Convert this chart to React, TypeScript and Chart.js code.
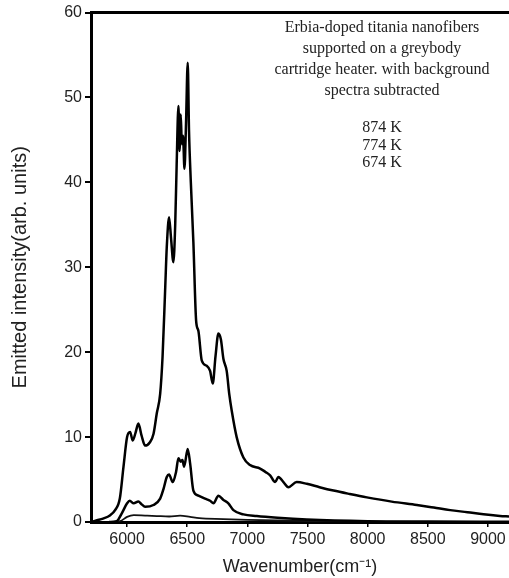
import React, { useEffect, useRef } from "react";
import { Chart, registerables } from "chart.js";

Chart.register(...registerables);

// ---- data ----
const X_TICKS = [6000, 6500, 7000, 7500, 8000, 8500, 9000];
const Y_TICKS = [0, 10, 20, 30, 40, 50, 60];

const SERIES_LABELS = ["874 K", "774 K", "674 K"];

const WN_874 = [5700, 5750, 5800, 5860, 5900, 5940, 5970, 6000, 6025, 6047, 6070, 6094, 6120, 6150, 6190, 6220, 6247, 6275, 6295, 6316, 6330, 6349, 6365, 6385, 6400, 6412, 6427, 6436, 6446, 6455, 6465, 6477, 6490, 6504, 6515, 6530, 6551, 6574, 6593, 6621, 6662, 6690, 6712, 6735, 6759, 6780, 6801, 6828, 6850, 6870, 6911, 6967, 7022, 7106, 7150, 7189, 7231, 7258, 7300, 7341, 7410, 7494, 7600, 7716, 7850, 7993, 8200, 8409, 8550, 8686, 8830, 8963, 9100, 9175];
const I_874 = [0.0, 0.2, 0.4, 0.8, 1.4, 2.8, 6.5, 10.0, 10.6, 9.6, 10.5, 11.6, 10.2, 9.0, 9.4, 10.4, 12.8, 15.1, 19.5, 27.2, 32.4, 35.9, 33.5, 30.6, 35.0, 42.0, 49.0, 43.7, 48.0, 44.5, 45.5, 41.6, 47.0, 54.1, 46.0, 40.0, 33.0, 23.7, 22.5, 19.0, 18.4, 17.8, 16.3, 19.5, 22.2, 21.5, 19.2, 17.8, 15.0, 13.1, 10.0, 7.6, 6.7, 6.3, 5.9, 5.5, 4.7, 5.3, 4.7, 4.1, 4.7, 4.5, 4.1, 3.7, 3.3, 2.9, 2.4, 2.0, 1.7, 1.4, 1.15, 0.9, 0.72, 0.65];

const WN_774 = [5850, 5914, 5955, 6000, 6022, 6055, 6094, 6120, 6150, 6219, 6275, 6303, 6330, 6349, 6380, 6407, 6427, 6446, 6460, 6474, 6504, 6524, 6551, 6593, 6648, 6690, 6718, 6759, 6801, 6842, 6884, 6967, 7078, 7250, 7494, 8000, 8500, 9175];
const I_774 = [0, 0.1, 1.0, 2.2, 2.5, 2.2, 2.4, 2.1, 1.8, 2.0, 2.75, 3.9, 5.3, 5.6, 4.7, 5.9, 7.5, 7.1, 7.3, 6.5, 8.6, 6.9, 3.7, 3.1, 2.75, 2.5, 2.2, 3.1, 2.6, 2.2, 1.4, 0.9, 0.7, 0.5, 0.3, 0.1, 0.05, 0.02];

const WN_674 = [5850, 5942, 6000, 6055, 6150, 6247, 6350, 6441, 6524, 6600, 6800, 7000, 7500, 8000, 8500, 9175];
const I_674 = [0, 0.1, 0.6, 0.8, 0.75, 0.7, 0.65, 0.75, 0.6, 0.45, 0.35, 0.25, 0.12, 0.05, 0.02, 0.0];

const NOTE_LINES = [
  "Erbia-doped titania nanofibers",
  "supported on a greybody",
  "cartridge heater. with background",
  "spectra subtracted",
];

const toPoints = (xs: number[], ys: number[]) => xs.map((x, i) => ({ x, y: ys[i] }));

const notePlugin = {
  id: "notePlugin",
  afterDraw(chart: any) {
    const { ctx, chartArea } = chart;
    ctx.save();
    // top frame line
    ctx.strokeStyle = "#000";
    ctx.lineWidth = 3;
    ctx.beginPath();
    ctx.moveTo(chartArea.left, chartArea.top);
    ctx.lineTo(chartArea.right, chartArea.top);
    ctx.stroke();
    // annotation text
    ctx.fillStyle = "#222";
    ctx.font = "16px 'Liberation Serif', 'DejaVu Serif', serif";
    ctx.textAlign = "center";
    ctx.textBaseline = "middle";
    const cx = 382;
    NOTE_LINES.forEach((t, i) => ctx.fillText(t, cx, 28 + i * 21));
    SERIES_LABELS.forEach((t, i) => ctx.fillText(t, cx, 128 + i * 17.5));
    ctx.restore();
  },
};

export default function App() {
  const ref = useRef<HTMLCanvasElement | null>(null);
  useEffect(() => {
    if (!ref.current) return;
    const tickFont = { family: "'Liberation Sans', Arial, sans-serif", size: 16 };
    const chart = new Chart(ref.current, {
      type: "line",
      data: {
        datasets: [
          { label: SERIES_LABELS[0], data: toPoints(WN_874, I_874), borderColor: "#000", borderWidth: 2.5, pointRadius: 0, cubicInterpolationMode: "monotone" },
          { label: SERIES_LABELS[1], data: toPoints(WN_774, I_774), borderColor: "#000", borderWidth: 2.5, pointRadius: 0, cubicInterpolationMode: "monotone" },
          { label: SERIES_LABELS[2], data: toPoints(WN_674, I_674), borderColor: "#111", borderWidth: 1.8, pointRadius: 0, cubicInterpolationMode: "monotone" },
        ],
      },
      options: {
        animation: false,
        responsive: false,
        maintainAspectRatio: false,
        layout: { padding: { top: 11, right: 0, left: 0, bottom: 0 } },
        plugins: { legend: { display: false }, tooltip: { enabled: false } },
        scales: {
          x: {
            type: "linear",
            min: 5700,
            max: 9175,
            afterBuildTicks: (s: any) => { s.ticks = X_TICKS.map((v) => ({ value: v })); },
            afterFit: (s: any) => { s.height = 56; },
            ticks: { color: "#222", font: tickFont, padding: 3, autoSkip: false, maxRotation: 0, callback: (v: any) => String(v) },
            grid: { drawOnChartArea: false, tickLength: 5, color: "#000", lineWidth: 1.5 },
            border: { display: true, color: "#000", width: 3 },
            title: { display: true, text: "Wavenumber(cm\u207B\u00B9)", color: "#222", font: { family: "'Liberation Sans', Arial, sans-serif", size: 18 }, padding: { top: 0, bottom: 0 } },
          },
          y: {
            type: "linear",
            min: 0,
            max: 60,
            afterBuildTicks: (s: any) => { s.ticks = Y_TICKS.map((v) => ({ value: v })); },
            afterFit: (s: any) => { s.width = 91; },
            ticks: { color: "#222", font: tickFont, padding: 3, callback: (v: any) => String(v) },
            grid: { drawOnChartArea: false, tickLength: 6, color: "#000", lineWidth: 2 },
            border: { display: true, color: "#000", width: 3 },
            title: { display: true, text: "Emitted intensity(arb. units)", color: "#222", font: { family: "'Liberation Sans', Arial, sans-serif", size: 20 }, padding: { top: 8, bottom: 0 } },
          },
        },
      } as any,
      plugins: [notePlugin],
    });
    return () => chart.destroy();
  }, []);
  return (
    <div style={{ position: "absolute", left: 0, top: 0, width: 509, height: 578, background: "#fff" }}>
      <canvas ref={ref} width={509} height={578} style={{ width: 509, height: 578, display: "block" }} />
    </div>
  );
}
